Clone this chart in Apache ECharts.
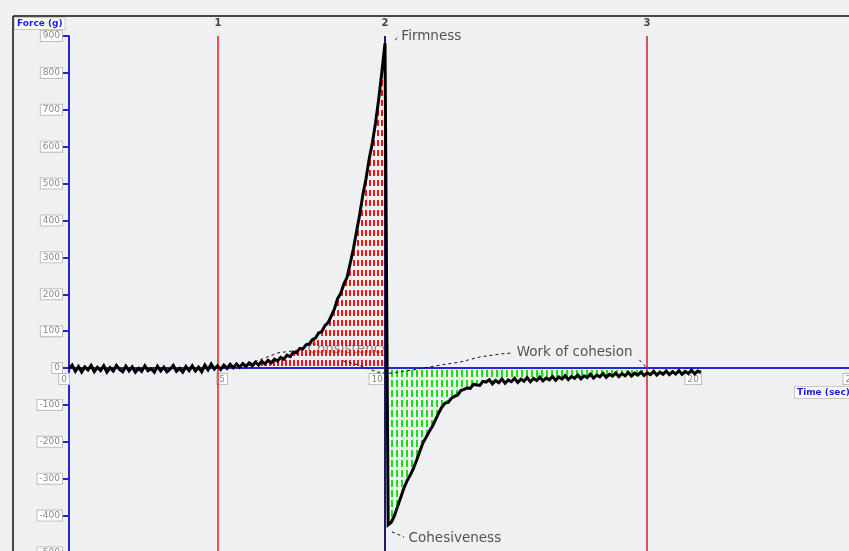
<!DOCTYPE html>
<html>
<head>
<meta charset="utf-8">
<script src="https://cdn.jsdelivr.net/npm/echarts@6/dist/echarts.min.js"></script>
<style>
  html, body { margin: 0; padding: 0; background: #eff0f2; }
  #chart { width: 849px; height: 551px; }
</style>
</head>
<body>
<div id="chart"></div>
<script>
// Texture analyser trace: force (g) sampled every 0.1 s from 0 to 20 s.
const sampleInterval = 0.1;

// 0.0 – 4.6 s: probe travelling, baseline noise
const forceIdle = [
  -2, 8, -9, 4, -11, 3, -5, 7, -10, 2,
  -7, 6, -11, 1, -8, 7, -4, -10, 5, -8,
  3, -11, -1, -9, 6, -7, -2, -11, 5, -8,
  2, -10, -3, 7, -9, -1, -11, 4, -7, 6,
  -8, 2, -10, 8, -5, 11, -3
];
// 4.7 – 10.0 s: compression up to the peak
const forceCompression = [
  6, -4, 8, -1, 10, 1, 11, 2, 12, 4,
  14, 6, 16, 8, 18, 11, 21, 14, 24, 19,
  29, 24, 35, 31, 43, 41, 53, 52, 63, 65,
  77, 81, 95, 99, 115, 123, 141, 160, 188, 203,
  228, 246, 284, 323, 370, 416, 470, 513, 567, 610,
  664, 728, 802, 880
];
// 10.1 – 13.2 s: withdrawal, negative peak
const forceWithdrawal = [
  -425, -418, -400, -375, -350, -325, -305, -290, -272, -250,
  -226, -203, -188, -172, -158, -140, -122, -106, -95, -93,
  -82, -77, -73, -61, -58, -54, -55, -44, -46, -47,
  -36, -38
];
// 13.3 – 20.0 s: relaxation back towards zero
const forceRelaxation = [
  -32, -43, -34, -40, -30, -41, -32, -37, -28, -39,
  -30, -36, -26, -37, -28, -34, -25, -35, -27, -32,
  -23, -33, -24, -30, -21, -31, -23, -28, -19, -29,
  -21, -26, -17, -27, -19, -24, -15, -25, -17, -22,
  -14, -23, -15, -21, -12, -22, -14, -19, -11, -20,
  -13, -18, -9, -19, -11, -17, -8, -18, -10, -16,
  -7, -17, -9, -15, -6, -16, -8, -12
];

const forceValues = [].concat(forceIdle, forceCompression, forceWithdrawal, forceRelaxation);
const trace = forceValues.map((f, i) => [+(i * sampleInterval).toFixed(1), f]);

// Region markers (time in s)
const markerNames = ['1', '2', '3'];
const markerTimes = [4.715, 10.0, 18.29];
const markerColors = ['#ff1a1a', '#1c1c66', '#c02828'];

// Axis ticks
const xTickLabels = [0, 5, 10, 20, 25];
const yTickLabels = [-500, -400, -300, -200, -100, 0, 100, 200, 300, 400, 500, 600, 700, 800, 900];

// Axis ranges
const timeMin = 0, timeMax = 25, timeStep = 5;
const forceMin = -500, forceMax = 900, forceStep = 100;

// Result annotations: text and anchor in (time, force)
const annotationText = ['Firmness', 'Consistency', 'Work of cohesion', 'Cohesiveness'];
const annotationTime = [10.47, 7.5, 14.12, 10.7];
const annotationForce = [900, 49, 41, -461];

// Dashed leader lines of the annotations
const leaderFirmness = [[10.32, 889], [10.44, 899]];
const leaderConsistency = [[5.51, 8], [6.04, 22], [6.61, 41], [7.31, 49]];
const leaderWork = [[8.67, 19], [9.05, 11], [9.43, 0], [9.75, -11], [10.16, -14], [10.89, -5],
                    [11.74, 8], [12.37, 16], [13.0, 30], [13.64, 38], [14.05, 41]];
const leaderWorkEnd = [[18.05, 22], [18.27, 2]];
const leaderCohesiveness = [[10.22, -444], [10.6, -458]];

// Plot box
const gridTop = 36, gridHeight = 516.5;
// the time axis sits on the zero-force line, so it is lifted from the grid bottom
const zeroOffset = -gridHeight * (0 - forceMin) / (forceMax - forceMin);

// Hatch fills for the area regions
function hatchTile(w, h, dashW, dashH, color) {
  const c = document.createElement('canvas');
  c.width = w; c.height = h;
  const ctx = c.getContext('2d');
  ctx.fillStyle = color;
  ctx.fillRect(1, 0, dashW, dashH);
  return c;
}
const redHatch = { image: hatchTile(4, 10, 2, 6, '#ff1010'), repeat: 'repeat' };
const greenHatch = { image: hatchTile(5, 10, 2, 7, '#14e014'), repeat: 'repeat' };

function inRange(t0, t1) {
  return trace.filter(p => p[0] >= t0 - 1e-9 && p[0] <= t1 + 1e-9);
}

const blue = '#2626d6';
const tickBox = {
  color: '#8a8a8a', fontSize: 9, fontFamily: 'DejaVu Sans',
  backgroundColor: '#ffffff', borderColor: '#bdbdbd', borderWidth: 1, padding: [1, 2, 0, 2]
};

function leaderSeries(points) {
  return {
    type: 'line', data: points, showSymbol: false, symbol: 'none', silent: true, z: 4,
    lineStyle: { color: '#111', width: 1, type: [3, 3] }
  };
}

function textSeries(indices, z, color) {
  return {
    type: 'scatter', z: z, silent: true, symbolSize: 1,
    itemStyle: { color: 'rgba(0,0,0,0)' },
    data: indices.map(i => ({ value: [annotationTime[i], annotationForce[i]], name: annotationText[i] })),
    label: {
      show: true, position: 'right', distance: 1, formatter: p => p.name,
      color: color, fontSize: 13.5, fontFamily: 'DejaVu Sans'
    }
  };
}

const chart = echarts.init(document.getElementById('chart'), null, { renderer: 'canvas' });

chart.setOption({
  animation: false,
  backgroundColor: '#eff0f2',
  grid: { left: 69, top: gridTop, width: 790, height: gridHeight, containLabel: false, outerBoundsMode: 'none' },
  xAxis: {
    type: 'value', min: timeMin, max: timeMax, interval: timeStep,
    position: 'bottom', offset: zeroOffset,
    axisLine: { onZero: false, lineStyle: { color: blue, width: 2 } },
    axisTick: { show: false },
    splitLine: { show: false },
    axisLabel: Object.assign({
      show: true, showMinLabel: true, showMaxLabel: true, hideOverlap: false,
      align: 'right', verticalAlign: 'top', margin: 6,
      formatter: v => (xTickLabels.indexOf(v) >= 0 ? String(v) : '')
    }, tickBox)
  },
  yAxis: {
    type: 'value', min: forceMin, max: forceMax, interval: forceStep,
    axisLine: { show: true, onZero: false, lineStyle: { color: blue, width: 2 } },
    axisTick: { show: true, length: 6, lineStyle: { color: blue, width: 2 } },
    splitLine: { show: false },
    axisLabel: Object.assign({
      align: 'right', verticalAlign: 'middle', margin: 7,
      formatter: v => (yTickLabels.indexOf(v) >= 0 ? String(v) : '')
    }, tickBox)
  },
  graphic: [
    { type: 'line', shape: { x1: 13, y1: 16, x2: 849, y2: 16 }, style: { stroke: '#111', lineWidth: 1.5 }, z: 10 },
    { type: 'line', shape: { x1: 13, y1: 16, x2: 13, y2: 551 }, style: { stroke: '#111', lineWidth: 1.5 }, z: 10 },
    {
      type: 'text', left: 14, top: 17, z: 10,
      style: {
        text: 'Force (g)', fill: '#1a1aff', font: 'bold 9px "DejaVu Sans"',
        backgroundColor: '#ffffff', borderColor: '#c8c8c8', borderWidth: 1, padding: [1, 2, 1, 2]
      }
    },
    {
      type: 'text', left: 794, top: 386, z: 10,
      style: {
        text: 'Time (sec)', fill: '#1a1aff', font: 'bold 9px "DejaVu Sans"',
        backgroundColor: '#ffffff', borderColor: '#c8c8c8', borderWidth: 1, padding: [1, 2, 1, 2]
      }
    }
  ],
  series: [
    textSeries([1], 1, '#6a6a6a'),
    {
      type: 'line', data: inRange(4.7, 10.0), showSymbol: false, symbol: 'none', silent: true, z: 2,
      lineStyle: { width: 0 }, areaStyle: { color: redHatch, opacity: 1 }
    },
    {
      type: 'line', data: inRange(10.1, 18.3), showSymbol: false, symbol: 'none', silent: true, z: 2,
      lineStyle: { width: 0 }, areaStyle: { color: greenHatch, opacity: 1 }
    },
    {
      type: 'line', data: [], silent: true, z: 3,
      markLine: {
        silent: true, symbol: ['none', 'none'], animation: false,
        data: markerTimes.map((t, i) => [
          {
            coord: [t, forceMax], name: markerNames[i],
            lineStyle: { color: markerColors[i], width: i === 1 ? 2 : 1.5, type: 'solid' },
            label: {
              show: true, position: 'start', distance: 8, formatter: markerNames[i],
              color: '#444', fontSize: 10, fontWeight: 'bold', fontFamily: 'DejaVu Sans'
            }
          },
          { coord: [t, forceMin] }
        ])
      }
    },
    leaderSeries(leaderConsistency),
    leaderSeries(leaderWork),
    leaderSeries(leaderWorkEnd),
    leaderSeries(leaderFirmness),
    leaderSeries(leaderCohesiveness),
    {
      type: 'line', data: trace, showSymbol: false, symbol: 'none', silent: true, z: 5,
      lineStyle: { color: '#000', width: 3, join: 'miter' }
    },
    textSeries([0, 2, 3], 6, '#2b2b2b')
  ]
});
</script>
</body>
</html>
